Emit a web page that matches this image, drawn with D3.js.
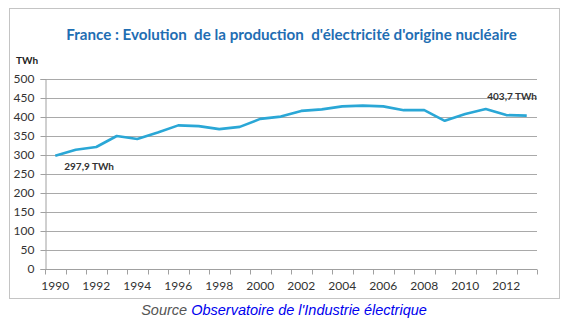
<!DOCTYPE html>
<html><head><meta charset="utf-8">
<script src="https://cdn.jsdelivr.net/npm/d3@7"></script>
<style>
html,body{margin:0;padding:0;background:#fff;}
svg{display:block;}
</style></head>
<body>
<svg id="c" width="585" height="327"></svg>
<script>
const years = [1990,1991,1992,1993,1994,1995,1996,1997,1998,1999,2000,2001,2002,2003,2004,2005,2006,2007,2008,2009,2010,2011,2012,2013];
const production = [297.9,314,321,350,342,359,378,376,368,374,395,401,416,420,428,430,428,418,418,390,408,421,405,403.7];
const yTicks = [0,50,100,150,200,250,300,350,400,450,500];
const xLabels = [1990,1992,1994,1996,1998,2000,2002,2004,2006,2008,2010,2012];
const title = "France : Evolution  de la production  d'électricité d'origine nucléaire";
const unit = "TWh";
const annotations = [{year:1990, text:"297,9 TWh"},{year:2013, text:"403,7 TWh"}];

(function(){
const svg = d3.select("#c");
const pLeft = 45, pRight = 537, pTop = 79, pBottom = 269;
const FONT = "Lato, 'Open Sans', sans-serif";

// frame
svg.append("rect").attr("x",9.5).attr("y",8.5).attr("width",550).attr("height",290)
  .attr("fill","#fff").attr("stroke","#c4c4c4").attr("stroke-width",1);

const x = d3.scaleBand().domain(years).range([pLeft,pRight]).paddingInner(0).paddingOuter(0);
const y = d3.scaleLinear().domain([0,500]).range([pBottom,pTop]);

// gridlines
svg.append("g").selectAll("line").data(yTicks.filter(d=>d>0)).join("line")
  .attr("x1",pLeft).attr("x2",pRight)
  .attr("y1",d=>Math.round(y(d))+0.5).attr("y2",d=>Math.round(y(d))+0.5)
  .attr("stroke","#a9a9a9").attr("stroke-width",1);

// y axis
const ya = svg.append("g").attr("transform",`translate(${pLeft+0.5},0)`)
  .call(d3.axisLeft(y).tickValues(yTicks).tickSize(5).tickPadding(6));
ya.select(".domain").attr("stroke","#a0a0a0");
ya.selectAll(".tick line").attr("stroke","#a0a0a0");
ya.selectAll("text").attr("font-family",FONT).attr("font-size",12).attr("fill","#333");

// x axis: ticks at category boundaries
const xa = svg.append("g").attr("transform",`translate(0,${Math.round(pBottom)+0.5})`);
xa.append("line").attr("x1",pLeft).attr("x2",pRight).attr("stroke","#a0a0a0");
xa.selectAll("line.t").data(years.concat([null])).join("line").attr("class","t")
  .attr("x1",(d,i)=>Math.round(pLeft + i*x.step())+0.5)
  .attr("x2",(d,i)=>Math.round(pLeft + i*x.step())+0.5)
  .attr("y1",0).attr("y2",5).attr("stroke","#a0a0a0");
xa.selectAll("text").data(xLabels).join("text")
  .attr("x",d=>x(d)+x.bandwidth()/2).attr("y",20)
  .attr("text-anchor","middle")
  .attr("font-family",FONT).attr("font-size",12).attr("fill","#333")
  .text(d=>d);

// line
const line = d3.line().x((d,i)=>x(years[i])+x.bandwidth()/2).y(d=>y(d));
svg.append("path").datum(production).attr("d",line)
  .attr("fill","none").attr("stroke","#2aa7d6").attr("stroke-width",2.6).attr("stroke-linejoin","round");

// annotations
const ann = svg.append("g").attr("font-family",FONT).attr("font-size",10)
  .attr("font-weight","bold").attr("fill","#333");
ann.append("text").attr("x",x(1990)+x.bandwidth()/2+9).attr("y",y(297.9)+14).text(annotations[0].text);
ann.append("text").attr("x",pRight).attr("y",y(403.7)-16).attr("text-anchor","end").text(annotations[1].text);

// unit
svg.append("text").attr("x",16).attr("y",64).attr("font-family",FONT)
  .attr("font-size",10).attr("font-weight","bold").attr("fill","#222").text(unit);

// title
const t = svg.append("text").attr("x",291.5).attr("y",40).attr("text-anchor","middle")
  .attr("font-family",FONT).attr("font-weight",700).attr("font-size",15)
  .attr("fill","#1f6eb3").style("white-space","pre").attr("xml:space","preserve").text(title);
const w = t.node().getComputedTextLength();
t.attr("font-size", 15*451/w);

// source
const s = svg.append("text").attr("x",284).attr("y",315).attr("text-anchor","middle")
  .attr("font-family","'Liberation Sans', Arial, sans-serif").attr("font-style","italic").attr("font-size",14.5);
s.append("tspan").attr("fill","#555").text("Source ");
s.append("tspan").attr("fill","#0000ee").text("Observatoire de l'Industrie électrique");
})();
</script>
</body></html>
